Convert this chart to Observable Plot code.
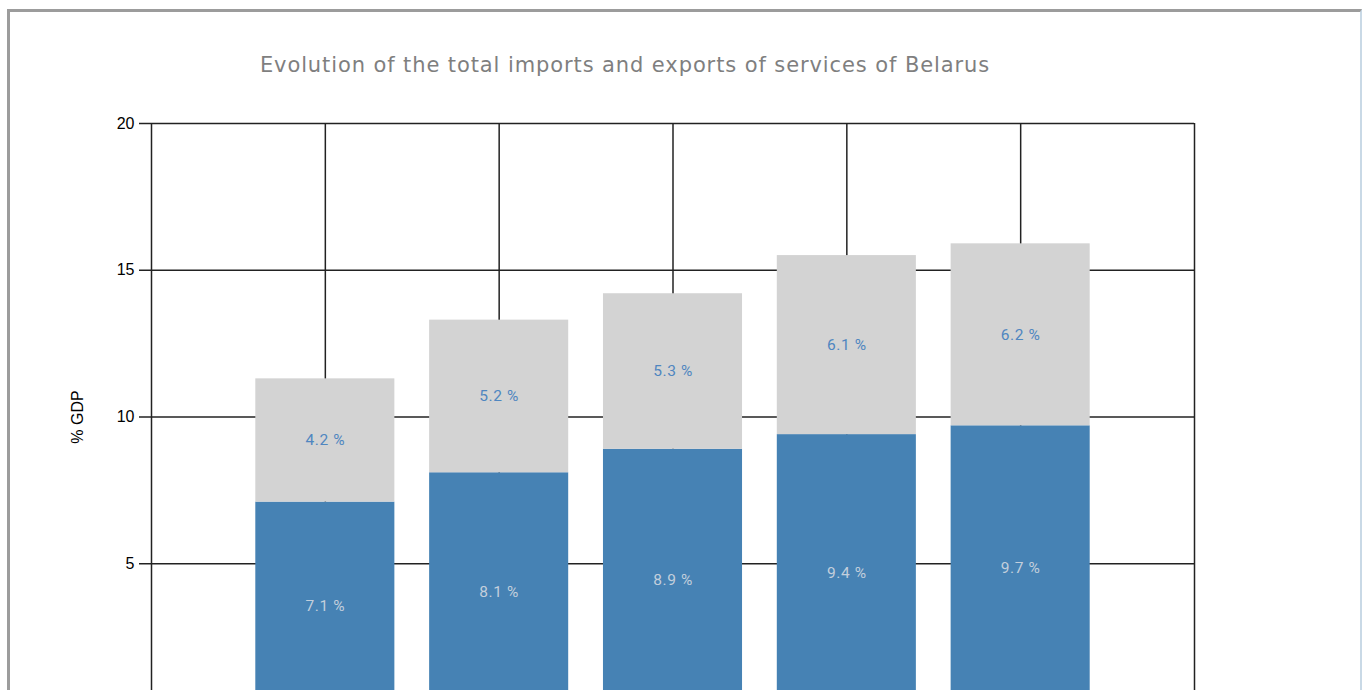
<!DOCTYPE html>
<html>
<head>
<meta charset="utf-8">
<script src="https://cdn.jsdelivr.net/npm/d3@7"></script>
<script src="https://cdn.jsdelivr.net/npm/@observablehq/plot@0.6"></script>
<style>
  html, body { margin: 0; padding: 0; background: #fff; overflow: hidden; }
  #frame { position: absolute; left: 7px; top: 9px; width: 1350px; height: 700px;
           border-top: 3px solid #9c9c9c; border-left: 3px solid #9c9c9c; border-right: 2px solid #c9d9e6; }
  #title { position: absolute; left: 0; width: 1250px; top: 53px; text-align: center;
           font-family: "DejaVu Sans", Verdana, sans-serif; font-size: 21px; letter-spacing: 0.9px; color: #7f7f7f; }
  #chart { position: absolute; left: 0; top: 0; }
  .barlabel { letter-spacing: 0.6px; }
</style>
</head>
<body>
<div id="frame"></div>
<div id="chart"></div>
<div id="title">Evolution of the total imports and exports of services of Belarus</div>
<script>
const categories = ["1", "2", "3", "4", "5"];
const exportsVals = [7.1, 8.1, 8.9, 9.4, 9.7];
const importsVals = [4.2, 5.2, 5.3, 6.1, 6.2];
const yTicks = [5, 10, 15, 20];

const rows = [];
categories.forEach((c, i) => {
  rows.push({pos: i + 1, series: "exports", y1: 0, y2: exportsVals[i], v: exportsVals[i]});
  rows.push({pos: i + 1, series: "imports", y1: exportsVals[i], y2: exportsVals[i] + importsVals[i], v: importsVals[i]});
});

const chart = Plot.plot({
  width: 1367,
  height: 760,
  marginLeft: 151,
  marginRight: 173,
  marginTop: 123,
  marginBottom: 50,
  style: {fontFamily: "'Liberation Sans', Arial, sans-serif", fontSize: "16px", color: "#000", background: "transparent"},
  x: {domain: [0, 6], axis: null},
  y: {domain: [0, 20]},
  marks: [
    Plot.ruleY(yTicks, {stroke: "#222", strokeWidth: 1.5}),
    Plot.ruleX([0, 1, 2, 3, 4, 5, 6], {stroke: "#222", strokeWidth: 1.5}),
    Plot.rectY(rows, {
      x1: d => d.pos - 0.4, x2: d => d.pos + 0.4, y1: "y1", y2: "y2",
      fill: d => d.series === "exports" ? "#4682b4" : "#d3d3d3"
    }),
    Plot.text(rows, {
      x: "pos", y: d => (d.y1 + d.y2) / 2,
      text: d => d.v.toFixed(1) + " %",
      fill: d => d.series === "exports" ? "#c3cfdc" : "#4f86c0",
      fontSize: 15.5, fontFamily: "Roboto, sans-serif", className: "barlabel"
    }),
    Plot.axisY({
      ticks: yTicks, tickSize: 12, tickPadding: 5, tickFormat: d => String(d),
      stroke: "#222", strokeWidth: 1.5,
      label: "% GDP", labelAnchor: "center", labelArrow: "none", labelOffset: 80, fontSize: 16
    })
  ]
});
document.getElementById("chart").appendChild(chart);
</script>
</body>
</html>
